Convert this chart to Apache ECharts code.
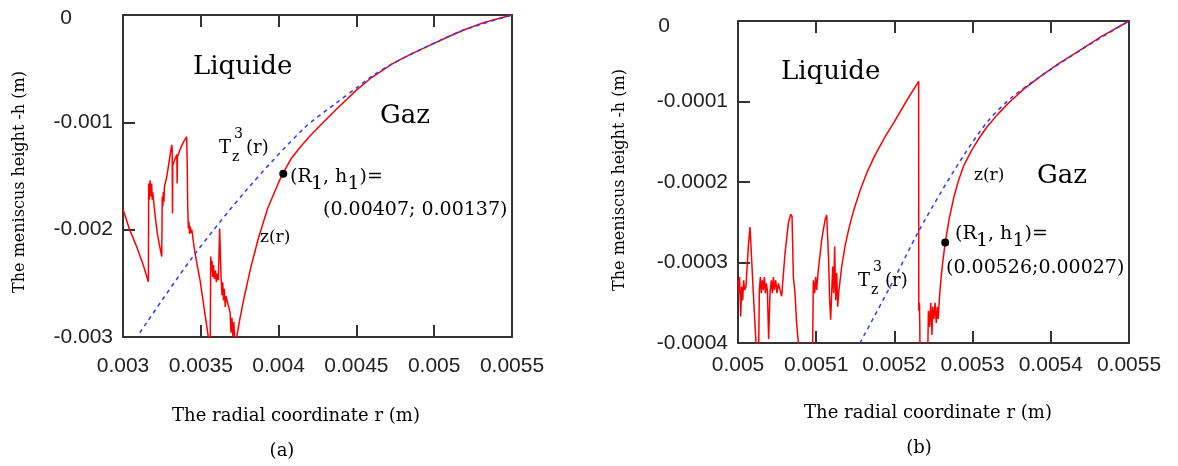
<!DOCTYPE html>
<html><head><meta charset="utf-8">
<script src="https://cdn.jsdelivr.net/npm/echarts@6/dist/echarts.min.js"></script>
<style>html,body{margin:0;padding:0;background:#fff}#c{width:1178px;height:466px}</style>
</head><body><div id="c"></div>
<script>
// ---- tick labels ----
const xTicksA = ['0.003','0.0035','0.004','0.0045','0.005','0.0055'];
const yTicksA = ['-0.003','-0.002','-0.001','0'];
const xTicksB = ['0.005','0.0051','0.0052','0.0053','0.0054','0.0055'];
const yTicksB = ['-0.0004','-0.0003','-0.0002','-0.0001','0'];

// ---- panel (a): z(r) numerical profile ----
const zA = [
 [0.003,-0.00181],[0.00304,-0.00199],[0.003088,-0.00216],[0.00313,-0.00233],[0.003163,-0.002485],
 [0.003165,-0.00157],[0.003169,-0.00172],[0.003174,-0.00154],[0.003179,-0.00169],[0.003184,-0.00157],
 [0.003188,-0.00172],[0.003191,-0.00165],[0.003205,-0.00185],[0.00322,-0.00203],[0.003235,-0.00215],
 [0.003249,-0.00225],[0.003252,-0.00169],[0.003256,-0.00178],[0.003259,-0.00165],[0.003263,-0.00174],
 [0.003266,-0.0016],[0.003281,-0.00151],[0.003298,-0.00135],[0.003313,-0.00121],[0.003316,-0.00125],
 [0.003318,-0.00185],[0.00332,-0.0014],[0.003335,-0.00134],[0.003346,-0.0013],[0.003348,-0.00157],
 [0.00335,-0.00132],[0.00337,-0.00124],[0.00339,-0.00118],[0.003409,-0.001134],[0.003413,-0.00141],
 [0.003416,-0.00179],[0.00342,-0.00199],[0.003424,-0.00193],[0.003428,-0.00204],[0.003432,-0.00197],
 [0.003437,-0.00203],[0.003442,-0.002],[0.00346,-0.00219],[0.003478,-0.00234],[0.003495,-0.00247],
 [0.00352,-0.00272],[0.003548,-0.002997],[0.00356,-0.00315],
 [0.003564,-0.00225],[0.003568,-0.00239],[0.003572,-0.00229],[0.003577,-0.00244],[0.003582,-0.00233],
 [0.003587,-0.00246],[0.003594,-0.00238],[0.0036,-0.00249],[0.003606,-0.00241],[0.003613,-0.00247],
 [0.003621,-0.00199],[0.003624,-0.002],
 [0.00363,-0.00243],[0.003636,-0.00261],[0.003641,-0.00249],[0.003646,-0.00266],[0.003651,-0.00255],
 [0.003657,-0.00272],[0.003662,-0.00262],[0.003688,-0.00277],[0.003694,-0.00296],[0.0037,-0.00282],
 [0.003706,-0.00299],[0.003712,-0.00286],[0.003718,-0.00302],[0.003724,-0.0031],
 [0.003731,-0.003],[0.00375,-0.00284],[0.00378,-0.00262],[0.00382,-0.00236],[0.00387,-0.00208],
 [0.00393,-0.0018],[0.004,-0.00156],[0.004026,-0.00148],[0.00408,-0.00134],[0.00414,-0.00123],
 [0.0042,-0.00113],[0.00428,-0.00101],[0.00437,-0.00088],[0.0045,-0.0007],[0.0046,-0.00058],
 [0.00473,-0.000455],[0.00485,-0.000365],[0.00496,-0.00029],[0.00508,-0.00021],[0.00519,-0.00014],
 [0.00532,-0.00007],[0.00542,-0.00003],[0.0055,0]
];
// ---- panel (a): T_z^3(r) ----
const tA = [
 [0.003108,-0.00296],[0.00345,-0.00225],[0.0038,-0.00162],[0.00416,-0.00106],[0.00437,-0.00082],
 [0.0045,-0.00068],[0.0046,-0.00057],[0.00473,-0.000455],[0.00496,-0.00029],[0.00519,-0.00014],[0.0055,0]
];
const ptA = [[0.00403,-0.00148]];

// ---- panel (b): z(r) numerical profile ----
const zB = [
 [0.005,-0.000322],[0.005001,-0.000338],[0.005002,-0.000318],[0.0050034,-0.000367],[0.0050047,-0.00033],
 [0.005006,-0.000347],[0.0050072,-0.000322],[0.0050085,-0.000334],[0.0050102,-0.00033],[0.0050132,-0.00028],
 [0.0050153,-0.000256],[0.0050162,-0.000272],[0.0050196,-0.000338],[0.005023,-0.0004],[0.005025,-0.00042],
 [0.0050264,-0.00041],[0.0050273,-0.000334],[0.0050286,-0.000318],[0.0050298,-0.000338],[0.0050311,-0.000322],
 [0.0050324,-0.000334],[0.0050337,-0.000318],[0.005035,-0.000338],[0.0050362,-0.000326],[0.0050375,-0.000334],
 [0.0050392,-0.000395],[0.0050409,-0.000338],[0.0050426,-0.000322],[0.0050439,-0.000338],[0.0050452,-0.000318],
 [0.0050465,-0.000334],[0.0050482,-0.000322],[0.0050499,-0.000338],[0.0050516,-0.000326],[0.0050537,-0.000334],
 [0.0050558,-0.000342],[0.0050601,-0.000289],[0.0050644,-0.000251],[0.0050674,-0.00024],[0.0050691,-0.000243],
 [0.0050708,-0.000318],[0.0050729,-0.000338],[0.005075,-0.000376],[0.0050772,-0.0004],[0.005079,-0.00045],
 [0.005095,-0.00045],[0.0050963,-0.000322],[0.005098,-0.000338],[0.0050993,-0.000318],[0.0051006,-0.000334],
 [0.0051023,-0.000313],[0.005107,-0.000272],[0.0051113,-0.000247],[0.0051134,-0.000241],[0.0051147,-0.000243],
 [0.0051159,-0.000297],[0.0051172,-0.000347],[0.0051185,-0.000371],[0.0051198,-0.000338],[0.0051211,-0.000305],
 [0.0051223,-0.000338],[0.0051236,-0.00028],[0.0051249,-0.000347],[0.0051262,-0.000313],[0.0051275,-0.000355],
 [0.0051287,-0.000338],[0.0051326,-0.000305],[0.005137,-0.000279],[0.005142,-0.000257],[0.005148,-0.000235],
 [0.005156,-0.000211],[0.005165,-0.000188],[0.005175,-0.000167],[0.005188,-0.000144],[0.0052,-0.000125],
 [0.005215,-0.0001],[0.005231,-0.000075],[0.0052312,-0.00036],[0.005232,-0.00035],[0.0052325,-0.00038],
 [0.005233,-0.00045],[0.005242,-0.00045],[0.0052435,-0.00036],[0.005245,-0.00038],[0.0052465,-0.00035],
 [0.005248,-0.00039],[0.005249,-0.000355],[0.0052505,-0.00037],[0.005252,-0.00035],[0.0052535,-0.000375],
 [0.005255,-0.000355],[0.005256,-0.00037],[0.005258,-0.000338],[0.00526,-0.000316],[0.005262,-0.000298],
 [0.005265,-0.000275],[0.00527,-0.000246],[0.005276,-0.000219],[0.005282,-0.000198],[0.005289,-0.000179],
 [0.005298,-0.000162],[0.005308,-0.000146],[0.005318,-0.000132],[0.005332,-0.000116],[0.005347,-0.000101],
 [0.005365,-0.000085],[0.005385,-0.00007],[0.00541,-0.000053],[0.005433,-0.000039],[0.005465,-0.000019],[0.0055,0]
];
// ---- panel (b): T_z^3(r) ----
const tB = [
 [0.005156,-0.0004],[0.0052,-0.00032],[0.00523,-0.000263],[0.00526,-0.000212],[0.00529,-0.000165],
 [0.00532,-0.000124],[0.00535,-0.000095],[0.005385,-0.00007],[0.00544,-0.000035],[0.0055,0]
];
const ptB = [[0.005265,-0.000275]];

const INK = '#333';
const SERIF = '"DejaVu Serif", serif';
const SANS = '"Liberation Sans", Arial, sans-serif';

function lbl(arr, min, step) {
  return v => {
    const s = arr[Math.round((v - min) / step)] || '';
    return s === '0' ? '{z|0}' : s;
  };
}

function xAx(grid, min, max, step, labels, pos, margin) {
  return {
    type: 'value', gridIndex: grid, min, max, interval: step, position: pos,
    axisLine: {show: true, onZero: false, lineStyle: {color: INK, width: 2}},
    axisTick: {show: true, inside: true, length: 12, lineStyle: {color: INK, width: 2}},
    axisLabel: {show: pos === 'bottom', margin: margin, fontFamily: SANS, fontSize: 21, color: '#222',
      formatter: lbl(labels, min, step)},
    splitLine: {show: false}
  };
}
function yAx(grid, min, max, step, labels, pos, zeroPad) {
  return {
    type: 'value', gridIndex: grid, min, max, interval: step, position: pos,
    axisLine: {show: true, onZero: false, lineStyle: {color: INK, width: 2}},
    axisTick: {show: pos === 'left', inside: true, length: 12, lineStyle: {color: INK, width: 2}},
    axisLabel: {show: pos === 'left', margin: 10, fontFamily: SANS, fontSize: 21, color: '#222',
      formatter: lbl(labels, min, step),
      rich: {z: {fontFamily: SANS, fontSize: 21, color: '#222', padding: zeroPad || [0, 0, 0, 0]}}},
    splitLine: {show: false}
  };
}

function txt(x, y, s, size, opt) {
  opt = opt || {};
  return {
    type: 'text', x, y, rotation: opt.rot || 0, z: 100,
    style: {text: s, fill: '#000', font: size + 'px ' + (opt.font || SERIF),
      align: opt.align || 'left', verticalAlign: 'middle',
      textAlign: opt.align || 'left', textVerticalAlign: 'middle'}
  };
}
function labelR1(x, cy) {
  const off = 7;
  return [
    txt(x, cy, '(R', 19), txt(x + 21, cy + off, '1', 19), txt(x + 33, cy, ', h', 19),
    txt(x + 57.5, cy + off, '1', 19), txt(x + 69.5, cy, ')=', 19)
  ];
}
function labelT(x, cy) {
  return [
    txt(x, cy, 'T', 18), txt(x + 15, cy - 14, '3', 14), txt(x + 13, cy + 9, 'z', 14), txt(x + 27, cy, '(r)', 18)
  ];
}

const chart = echarts.init(document.getElementById('c'), null, {renderer: 'canvas'});
chart.setOption({
  animation: false,
  backgroundColor: '#fff',
  grid: [
    {left: 123, top: 15, width: 389, height: 322, outerBoundsMode: 'none'},
    {left: 738, top: 21, width: 391, height: 322, outerBoundsMode: 'none'}
  ],
  xAxis: [
    xAx(0, 0.003, 0.0055, 0.0005, xTicksA, 'bottom', 19),
    xAx(0, 0.003, 0.0055, 0.0005, xTicksA, 'top', 10),
    xAx(1, 0.005, 0.0055, 0.0001, xTicksB, 'bottom', 12),
    xAx(1, 0.005, 0.0055, 0.0001, xTicksB, 'top', 10)
  ],
  yAxis: [
    yAx(0, -0.003, 0, 0.001, yTicksA, 'left', [7, 41, 0, 0]),
    yAx(0, -0.003, 0, 0.001, yTicksA, 'right'),
    yAx(1, -0.0004, 0, 0.0001, yTicksB, 'left', [10, 58, 0, 0]),
    yAx(1, -0.0004, 0, 0.0001, yTicksB, 'right')
  ],
  series: [
    {type: 'line', xAxisIndex: 0, yAxisIndex: 0, data: zA, showSymbol: false, clip: true, z: 3,
      lineStyle: {color: '#ff0000', width: 1.5}},
    {type: 'line', xAxisIndex: 0, yAxisIndex: 0, data: tA, showSymbol: false, clip: true, z: 4, smooth: 0.3,
      lineStyle: {color: '#2a3cff', width: 1.5, type: [4, 4]}},
    {type: 'scatter', xAxisIndex: 0, yAxisIndex: 0, data: ptA, symbolSize: 8, z: 6,
      itemStyle: {color: '#000', opacity: 1}},
    {type: 'line', xAxisIndex: 2, yAxisIndex: 2, data: zB, showSymbol: false, clip: true, z: 3,
      lineStyle: {color: '#ff0000', width: 1.5}},
    {type: 'line', xAxisIndex: 2, yAxisIndex: 2, data: tB, showSymbol: false, clip: true, z: 4, smooth: 0.3,
      lineStyle: {color: '#2a3cff', width: 1.5, type: [4, 4]}},
    {type: 'scatter', xAxisIndex: 2, yAxisIndex: 2, data: ptB, symbolSize: 8, z: 6,
      itemStyle: {color: '#000', opacity: 1}}
  ],
  graphic: [
    // panel (a)
    txt(193, 67, 'Liquide', 26), txt(380, 116, 'Gaz', 26),
    ...labelT(219, 148.5),
    ...labelR1(290, 177),
    txt(323, 210, '(0.00407; 0.00137)', 19),
    txt(260, 237.5, 'z(r)', 17),
    txt(296, 416, 'The radial coordinate r (m)', 18, {align: 'center'}),
    txt(282, 451, '(a)', 18, {align: 'center'}),
    txt(20, 182, 'The meniscus height -h (m)', 16, {align: 'center', rot: Math.PI / 2}),
    // panel (b)
    txt(781, 72.5, 'Liquide', 26), txt(1037, 176.5, 'Gaz', 26),
    ...labelT(858, 281.5),
    ...labelR1(955, 234),
    txt(946, 268, '(0.00526;0.00027)', 19),
    txt(974, 176, 'z(r)', 17),
    txt(928, 413, 'The radial coordinate r (m)', 18, {align: 'center'}),
    txt(919, 448, '(b)', 18, {align: 'center'}),
    txt(620, 180, 'The meniscus height -h (m)', 16, {align: 'center', rot: Math.PI / 2})
  ]
});
</script>
</body></html>
